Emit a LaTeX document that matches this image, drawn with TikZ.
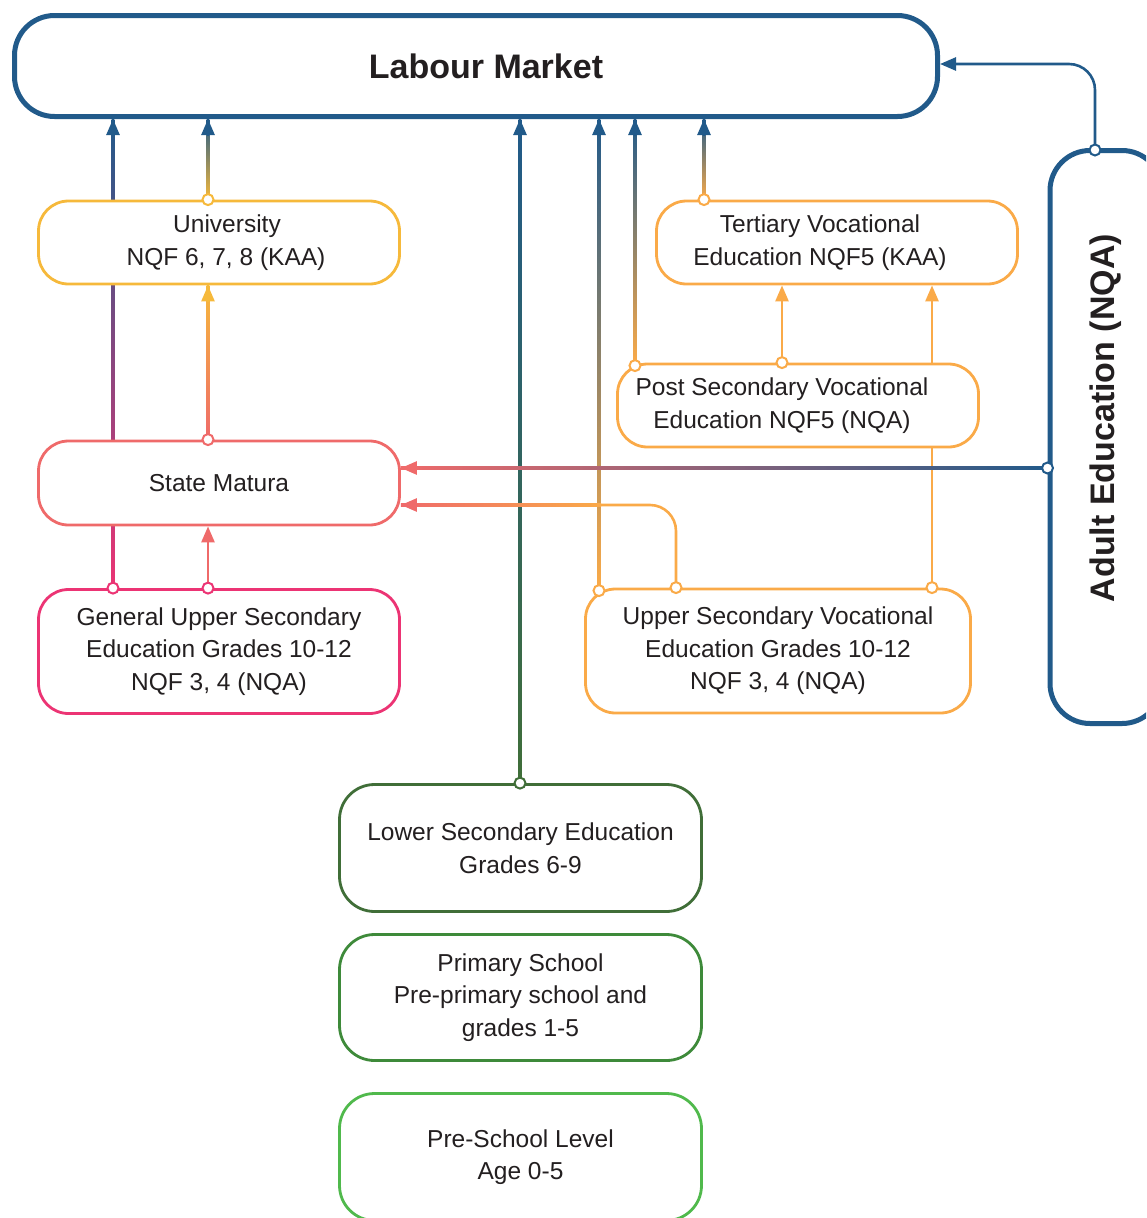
\documentclass[tikz,border=0pt]{standalone}
\usepackage{fontspec}
\usepackage{graphicx}
\setmainfont{Liberation Sans}
\usetikzlibrary{arrows.meta,calc,backgrounds}
\definecolor{cblue}{RGB}{33,90,138}
\definecolor{cyel}{RGB}{246,185,59}
\definecolor{corg}{RGB}{250,170,72}
\definecolor{csal}{RGB}{239,106,106}
\definecolor{cpink}{RGB}{236,52,116}
\definecolor{cdgreen}{RGB}{64,110,56}
\definecolor{cgreen}{RGB}{62,138,58}
\definecolor{clgreen}{RGB}{80,185,76}
\definecolor{ctext}{RGB}{35,31,32}
\newcommand\vgr[4]{%
  \shade[bottom color=#3,top color=#4] ($(#1)+(-1.3,0)$) rectangle ($(#2)+(1.3,0)$);
  \draw[arr,draw=#4,fill=#4] ($(#2)+(0,17)$) -- (#2);}
\begin{document}
\begin{tikzpicture}[x=1pt,y=-1pt,
  box/.style={draw, rounded corners=30pt, line width=2.8pt, fill=white, align=center,
    text=ctext, font=\fontsize{24.5}{32.5}\selectfont, inner sep=0pt, minimum width=361},
  bigbox/.style={draw=cblue, line width=5pt, rounded corners=40pt, fill=white,
    text=ctext, font=\bfseries\fontsize{34}{40}\selectfont, inner sep=0pt},
  arr/.style={-{Triangle[length=16pt,width=13pt]}, line width=2.6pt},
  conn/.style={line width=2.6pt},
  dot/.style={fill=white, line width=2pt}]
\useasboundingbox (0,0) rectangle (1146,1218);
\clip (0,0) rectangle (1146,1218);

% boxes
\node[bigbox, minimum width=923, minimum height=101] (lm) at (476,66) {\hspace*{20pt}Labour Market};
\node[bigbox, minimum width=112, minimum height=573] (ad) at (1106,437) {\rotatebox{90}{\hspace*{38pt}Adult Education (NQA)}};
\node[box, draw=cyel, minimum height=83] (uni) at (219,242.5) {\hspace*{16pt}University\\\hspace*{14pt}NQF 6, 7, 8 (KAA)};
\node[box, draw=corg, minimum height=83] (tv) at (837,242.5) {Tertiary Vocational\hspace*{34pt}\\Education NQF5 (KAA)\hspace*{34pt}};
\node[box, draw=corg, minimum height=83] (ps) at (798,405.5) {Post Secondary Vocational\hspace*{32pt}\\Education NQF5 (NQA)\hspace*{32pt}};
\node[box, draw=csal, minimum height=84] (sm) at (219,483) {State Matura};
\node[box, draw=cpink, minimum height=124] (gen) at (219,651.5) {General Upper Secondary\\Education Grades 10-12\\NQF 3, 4 (NQA)};
\node[box, draw=corg, minimum width=385, minimum height=124] (uv) at (778,651) {Upper Secondary Vocational\\Education Grades 10-12\\NQF 3, 4 (NQA)};
\node[box, draw=cdgreen, rounded corners=35pt, minimum width=362, minimum height=127] (ls) at (520.5,848) {Lower Secondary Education\\Grades 6-9};
\node[box, draw=cgreen, rounded corners=35pt, minimum width=362, minimum height=126] (pri) at (520.5,997.5) {Primary School\\Pre-primary school and\\grades 1-5};
\node[box, draw=clgreen, rounded corners=35pt, minimum width=362, minimum height=127] (pre) at (520.5,1157) {Pre-School Level\\Age 0-5};

% connectors
\begin{scope}[on background layer]
\vgr{113,0 |- gen.north}{113,0 |- lm.south}{cpink}{cblue}
\vgr{208,0 |- uni.north}{208,0 |- lm.south}{cyel}{cblue}
\vgr{208,0 |- sm.north}{208,0 |- uni.south}{csal}{cyel}
\draw[arr, csal] (208,0 |- gen.north) -- (208,0 |- sm.south);
\vgr{520,0 |- ls.north}{520,0 |- lm.south}{cdgreen}{cblue}
\vgr{599,0 |- uv.north}{599,0 |- lm.south}{corg}{cblue}
\vgr{635,0 |- ps.north}{635,0 |- lm.south}{corg}{cblue}
\vgr{704,0 |- tv.north}{704,0 |- lm.south}{corg}{cblue}
\draw[arr, corg] (782,0 |- ps.north) -- (782,0 |- tv.south);
\draw[arr, corg] (932,0 |- uv.north) -- (932,0 |- tv.south);
% Adult -> State Matura
\shade[left color=csal, right color=cblue] ($(sm.east |- 0,468)+(0,-1.3)$) rectangle ($(ad.west |- 0,468)+(0,1.3)$);
\draw[arr, csal] ($(sm.east |- 0,468)+(17,0)$) -- (sm.east |- 0,468);
% Upper vocational -> State Matura
\draw[conn, corg, rounded corners=26pt] (676,0 |- uv.north) |- (600,505);
\shade[left color=csal, right color=corg] ($(sm.east |- 0,505)+(0,-1.3)$) rectangle (601,506.3);
\draw[arr, csal] ($(sm.east |- 0,505)+(17,0)$) -- (sm.east |- 0,505);
% Adult -> Labour Market
\draw[arr, cblue, rounded corners=26pt] (1095,0 |- ad.north) |- (lm.east |- 0,64);
\end{scope}

% connector ends
\draw[dot, draw=cyel] (208,0 |- uni.north) circle (5.5);
\draw[dot, draw=csal] (208,0 |- sm.north) circle (5.5);
\draw[dot, draw=cpink] (113,0 |- gen.north) circle (5.5);
\draw[dot, draw=cpink] (208,0 |- gen.north) circle (5.5);
\draw[dot, draw=cdgreen] (520,0 |- ls.north) circle (5.5);
\draw[dot, draw=corg] (704,0 |- tv.north) circle (5.5);
\draw[dot, draw=corg] ($(635,0 |- ps.north)+(0,3)$) circle (5.5);
\draw[dot, draw=corg] (782,0 |- ps.north) circle (5.5);
\draw[dot, draw=corg] ($(599,0 |- uv.north)+(0,3)$) circle (5.5);
\draw[dot, draw=corg] (676,0 |- uv.north) circle (5.5);
\draw[dot, draw=corg] (932,0 |- uv.north) circle (5.5);
\draw[dot, draw=cblue] ($(1095,0 |- ad.north)+(0,2)$) circle (5.5);
\draw[dot, draw=cblue] (ad.west |- 0,468) circle (5.5);
\end{tikzpicture}
\end{document}
